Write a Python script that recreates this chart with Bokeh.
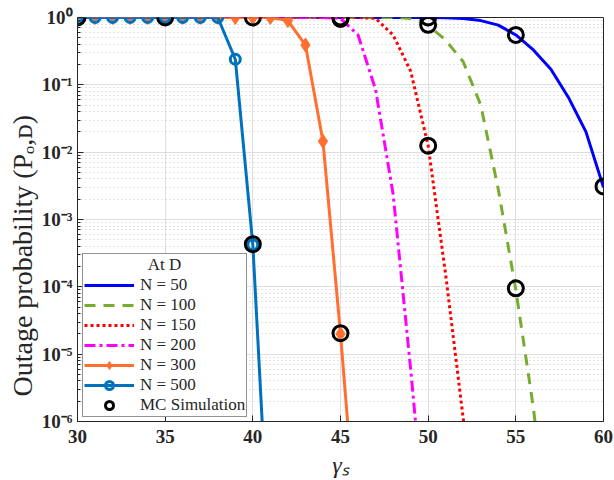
from bokeh.plotting import figure
from bokeh.models import Legend, LegendItem, FixedTicker, CustomJSTickFormatter, Title
from bokeh.embed import file_html
from bokeh.resources import INLINE

# ---------------- data ----------------
x_n50 = list(range(30, 61))
y_n50 = [1.0] * 20 + [0.999, 0.99, 0.97, 0.9, 0.77, 0.55, 0.33, 0.17, 0.065, 0.02, 0.003]

x_n100 = list(range(30, 58))
y_n100 = [1.0] * 19 + [0.97, 0.77, 0.46, 0.22, 0.05, 0.0028, 9e-5, 1.6e-6, 1e-8]

x_n150 = list(range(30, 54))
y_n150 = [1.0] * 17 + [0.97, 0.55, 0.16, 0.0125, 1.5e-4, 1.1e-6, 1e-8]

x_n200 = list(range(30, 51))
y_n200 = [1.0] * 15 + [0.97, 0.55, 0.085, 2.4e-3, 6e-6, 1e-8]

x_n300 = list(range(30, 47))
y_n300 = [1.0] * 12 + [0.9, 0.39, 0.0145, 2e-5, 1.2e-8]

x_n500 = list(range(30, 42))
y_n500 = [1.0] * 9 + [0.24, 4.2e-4, 5e-9]

x_mc = [30, 35, 40, 45, 45, 50, 50, 50, 55, 55, 60, 40, 45]
y_mc = [1.0, 1.0, 1.0, 1.0, 0.95, 1.0, 0.78, 0.0125, 0.55, 9.5e-5, 3.1e-3, 4.3e-4, 2.05e-5]

x_ticks = [30, 35, 40, 45, 50, 55, 60]
y_ticks = [1e-6, 1e-5, 1e-4, 1e-3, 1e-2, 1e-1, 1.0]
y_minor = [m * 10.0 ** e for e in range(-6, 0) for m in range(2, 10)]

labels = ["N = 50", "N = 100", "N = 150", "N = 200", "N = 300", "N = 500", "MC Simulation"]
legend_title = "\u00a0" * 15 + "At D"
y_label = "Outage probability (Pₒ,ᴅ)"
x_label = "γₛ"

# ---------------- figure ----------------
p = figure(width=614, height=480, y_axis_type="log",
           x_range=(30, 60), y_range=(1e-6, 1.0),
           output_backend="svg", toolbar_location=None,
           min_border_left=77, min_border_right=11, min_border_top=17, min_border_bottom=58)

p.outline_line_color = "#262626"
p.outline_line_width = 1
p.background_fill_color = "white"

axis_col = "#262626"
for ax in (p.xaxis, p.yaxis):
    ax.axis_line_color = axis_col
    ax.major_tick_line_color = axis_col
    ax.minor_tick_line_color = axis_col
    ax.major_tick_in = 6
    ax.major_tick_out = 0
    ax.minor_tick_in = 3
    ax.minor_tick_out = 0
    ax.major_label_text_font = "Liberation Serif"
    ax.major_label_text_font_style = "bold"
    ax.major_label_text_font_size = "19px"
    ax.major_label_text_color = axis_col
    ax.axis_label_text_font = "Liberation Serif"
    ax.axis_label_text_font_style = "normal"
    ax.axis_label_text_color = axis_col

p.xaxis.ticker = FixedTicker(ticks=x_ticks)
p.xaxis.minor_tick_line_color = None
p.xaxis.axis_label = x_label
p.xaxis.axis_label_text_font_style = "italic"
p.xaxis.axis_label_text_font_size = "24px"
p.xaxis.major_label_standoff = 8
p.xaxis.axis_label_standoff = 6

p.yaxis.ticker = FixedTicker(ticks=y_ticks, minor_ticks=y_minor)
p.yaxis.formatter = CustomJSTickFormatter(code="""
const e = Math.round(Math.log10(tick));
const sup = {'-':'\u207b','0':'\u2070','1':'\u00b9','2':'\u00b2','3':'\u00b3','4':'\u2074','5':'\u2075','6':'\u2076','7':'\u2077','8':'\u2078','9':'\u2079'};
return '10' + String(e).split('').map(c => sup[c]).join('');
""")
p.yaxis.major_label_standoff = 5

ytitle = Title(text=y_label, align="left", offset=25, standoff=2,
               text_font="Liberation Serif", text_font_size="28px",
               text_font_style="normal", text_color=axis_col)
p.add_layout(ytitle, "left")

p.xgrid.ticker = FixedTicker(ticks=x_ticks)
p.xgrid.grid_line_color = "#dedede"
p.ygrid.ticker = FixedTicker(ticks=y_ticks, minor_ticks=y_minor)
p.ygrid.grid_line_color = "#dedede"
p.ygrid.minor_grid_line_color = "#c8c8c8"
p.ygrid.minor_grid_line_dash = "1 3"

lw = 3
r50 = p.line(x_n50, y_n50, line_color="#0000FF", line_width=lw)
r100 = p.line(x_n100, y_n100, line_color="#77AC30", line_width=lw, line_dash="11 8")
r150 = p.line(x_n150, y_n150, line_color="#FF0000", line_width=lw, line_dash="3 3")
r200 = p.line(x_n200, y_n200, line_color="#FF00FF", line_width=lw, line_dash="11 4 3 4")
r300 = p.line(x_n300, y_n300, line_color="#FF6F30", line_width=lw)
r300m = p.scatter(x_n300, y_n300, marker="diamond", size=14, fill_color="#FF6F30",
                  line_color="#FF6F30", line_width=1)
r500 = p.line(x_n500, y_n500, line_color="#0072BD", line_width=lw)
r500m = p.scatter(x_n500, y_n500, marker="circle", size=10, fill_color=None,
                  line_color="#0072BD", line_width=3)
rmc = p.scatter(x_mc, y_mc, marker="circle", size=15, fill_color=None,
                line_color="black", line_width=3)

items = [
    LegendItem(label=labels[0], renderers=[r50]),
    LegendItem(label=labels[1], renderers=[r100]),
    LegendItem(label=labels[2], renderers=[r150]),
    LegendItem(label=labels[3], renderers=[r200]),
    LegendItem(label=labels[4], renderers=[r300, r300m]),
    LegendItem(label=labels[5], renderers=[r500, r500m]),
    LegendItem(label=labels[6], renderers=[rmc]),
]
legend = Legend(items=items, location=(5, 4), title=legend_title,
                label_text_font="Liberation Serif", label_text_font_size="17px",
                label_text_color="#262626",
                title_text_font="Liberation Serif", title_text_font_size="17px",
                title_text_font_style="normal", title_text_color="#262626",
                glyph_width=50, glyph_height=20, label_height=20, spacing=0,
                padding=1, label_standoff=6, title_standoff=0,
                border_line_color="#262626", border_line_width=1,
                background_fill_color="white", background_fill_alpha=1.0,
                margin=0)
p.add_layout(legend)

open("out.html", "w").write(file_html(p, INLINE))
